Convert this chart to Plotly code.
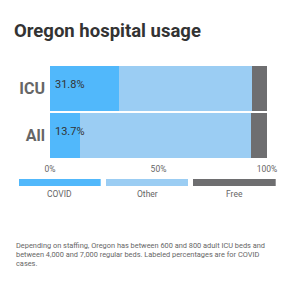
import plotly.graph_objects as go

categories = ["ICU", "All"]
covid = [31.8, 13.7]
other = [61.4, 78.9]
free = [6.8, 7.4]
series_names = ["COVID", "Other", "Free"]
colors = ["#51b8fb", "#9bcdf3", "#6e6e70"]
tick_vals = [0, 50, 100]
tick_text = ["0%", "50%", "100%"]
title = "Oregon hospital usage"
note_lines = [
    "Depending on staffing, Oregon has between 600 and 800 adult ICU beds and",
    "between 4,000 and 7,000 regular beds. Labeled percentages are for COVID",
    "cases.",
]

W, H = 292, 298
L, R, T, B = 50, 25, 65, 139
PW, PH = W - L - R, H - T - B
FONT = "Roboto"


def px(x):
    return (x - L) / PW


def py(y):
    return (H - B - y) / PH


fig = go.Figure()
for name, vals, col in zip(series_names, [covid, other, free], colors):
    fig.add_trace(go.Bar(
        y=categories, x=vals, name=name, orientation="h",
        marker=dict(color=col, line=dict(width=0)),
        hoverinfo="skip", showlegend=False,
    ))

annotations = []
for cat, v in zip(categories, covid):
    annotations.append(dict(
        x=0, y=cat, xref="x", yref="y", text=f"{v:.1f}%", showarrow=False,
        xanchor="left", yanchor="middle", xshift=3, yshift=4,
        font=dict(family=FONT, size=11, color="#333333"),
    ))

# legend swatches and labels
sw = [(19, 100.7), (106, 188), (193, 275.7)]
shapes = []
for (x0, x1), name, col in zip(sw, series_names, colors):
    shapes.append(dict(type="rect", xref="paper", yref="paper",
                       x0=px(x0), x1=px(x1), y0=py(186), y1=py(179),
                       fillcolor=col, line=dict(width=0)))
    annotations.append(dict(
        x=px((x0 + x1) / 2), y=py(194.3), xref="paper", yref="paper",
        text=name, showarrow=False, xanchor="center", yanchor="middle",
        font=dict(family=FONT, size=8.5, color="#666666"),
    ))

for i, line in enumerate(note_lines):
    annotations.append(dict(
        x=px(14), y=py(245.5 + i * 8.9), xref="paper", yref="paper",
        text=line, showarrow=False, xanchor="left", yanchor="middle",
        font=dict(family=FONT, size=7.4, color="#666666"),
    ))

fig.update_layout(
    width=W, height=H,
    margin=dict(l=L, r=R, t=T, b=B, pad=0),
    paper_bgcolor="white", plot_bgcolor="white",
    barmode="stack", bargap=0.055,
    title=dict(text=f"<b>{title}</b>", x=14 / W, xanchor="left",
               xref="container", yref="container", y=1 - 30.5 / H, yanchor="middle",
               font=dict(family=FONT, size=18.5, color="#333333")),
    xaxis=dict(range=[0, 100], tickvals=tick_vals, ticktext=tick_text,
               showgrid=False, zeroline=False, showline=False, ticks="",
               ticklabelstandoff=3,
               tickfont=dict(family=FONT, size=8.5, color="#666666"),
               fixedrange=True),
    yaxis=dict(autorange="reversed", showgrid=False, zeroline=False,
               showline=False, ticks="", ticklabelstandoff=4,
               tickfont=dict(family=FONT, size=16, color="#666666", weight="bold"),
               fixedrange=True),
    shapes=shapes, annotations=annotations,
)

fig.write_html("out.html", config={"displayModeBar": False})
